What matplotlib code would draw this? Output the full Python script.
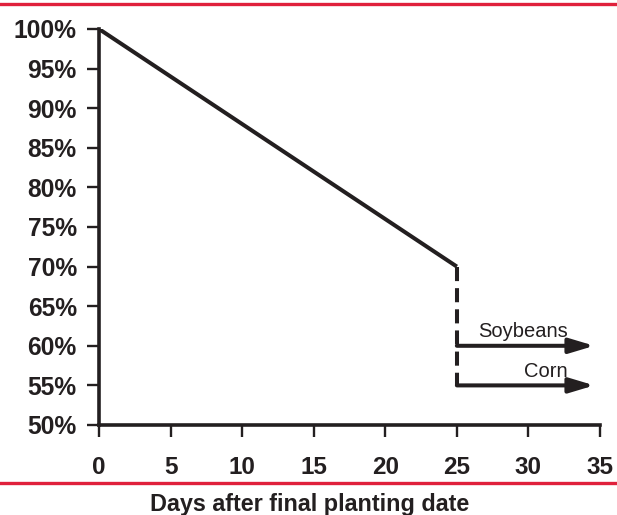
import matplotlib
matplotlib.use("Agg")
import matplotlib.pyplot as plt

fam = "Liberation Sans"

days = [0, 25]
pct = [100, 70]
drop_x = [25, 25]
drop_y = [70, 55]
arrow_labels = ["Soybeans", "Corn"]
arrow_levels = [60, 55]
arrow_start = 25
arrow_end = 34.6
label_x = 32.73
xticks = [0, 5, 10, 15, 20, 25, 30, 35]
yticks = [50, 55, 60, 65, 70, 75, 80, 85, 90, 95, 100]
xlabel = "Days after final planting date"

ink = "#231f20"
fig = plt.figure(figsize=(6.17, 5.15), dpi=100)
ax = fig.add_axes([99/617, 90/515, 501/617, 396/515])

ax.plot(days, pct, color=ink, lw=2.9, solid_capstyle="butt")
ax.plot(drop_x, drop_y, color=ink, lw=2.9, ls=(0, (3.5, 1.75)), dash_capstyle="butt")
for lab, lvl in zip(arrow_labels, arrow_levels):
    ax.annotate("", xy=(arrow_end, lvl), xytext=(arrow_start, lvl),
                arrowprops=dict(arrowstyle="-|>,head_length=1.5,head_width=0.45",
                                mutation_scale=10, color=ink, lw=2.9,
                                shrinkA=0, shrinkB=0))
    ax.text(label_x, lvl + 1.1, lab, ha="right", va="baseline", fontsize=14.5,
            family=fam, color=ink)

ax.set_xlim(0, 35)
ax.set_ylim(50, 100)
ax.set_xticks(xticks)
ax.set_yticks(yticks)
ax.set_xticklabels([str(v) for v in xticks], family=fam, fontweight="bold", fontsize=17.5)
ax.set_yticklabels([f"{v}%" for v in yticks], family=fam, fontweight="bold", fontsize=17.7)
for s in ["top", "right"]:
    ax.spines[s].set_visible(False)
for s in ["left", "bottom"]:
    ax.spines[s].set_linewidth(2.6)
    ax.spines[s].set_color(ink)
ax.tick_params(axis="both", direction="out", width=1.7, length=8.5, color=ink,
               labelcolor=ink)
ax.tick_params(axis="x", pad=14)
ax.tick_params(axis="y", pad=7.5)

red = "#e0203c"
fig.add_artist(plt.Line2D([0, 1], [1 - 4/515, 1 - 4/515], color=red, lw=2.4, transform=fig.transFigure))
fig.add_artist(plt.Line2D([0, 1], [1 - 483/515, 1 - 483/515], color=red, lw=2.4, transform=fig.transFigure))
fig.text(310/617, 1 - 505/515, xlabel, ha="center", va="center", family=fam,
         fontweight="bold", fontsize=16.8, color=ink)

fig.savefig("out.png", dpi=100)
